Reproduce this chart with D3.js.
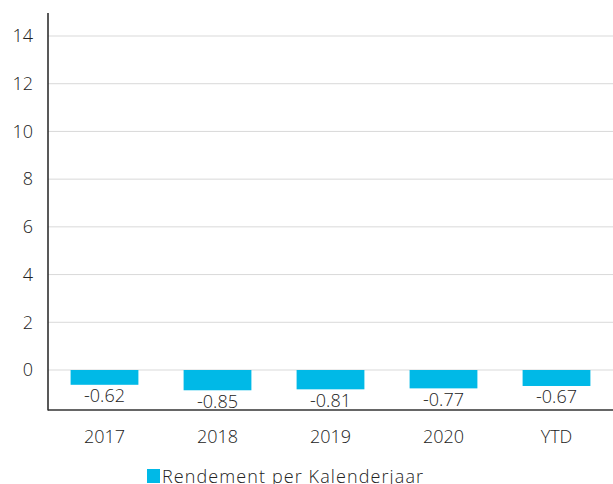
<!DOCTYPE html>
<html>
<head>
<meta charset="utf-8">
<script src="https://cdn.jsdelivr.net/npm/d3@7"></script>
<style>
  body { margin: 0; background: #fff; }
  svg { display: block; font-family: "Open Sans", "Noto Sans", sans-serif; font-weight: 300; }
</style>
</head>
<body>
<svg id="chart" width="613" height="484"></svg>
<script>
const categories = ['2017', '2018', '2019', '2020', 'YTD'];
const values = [-0.62, -0.85, -0.81, -0.77, -0.67];
const yTicks = [0, 2, 4, 6, 8, 10, 12, 14];
const seriesName = 'Rendement per Kalenderjaar';

const svg = d3.select('#chart');
const width = 613;
const left = 48;

const y = d3.scaleLinear([0, 14], [370, 36]);
const x = d3.scaleBand(categories, [left, width]).paddingInner(0.4).paddingOuter(0.2);

// gridlines
svg.append('g')
  .selectAll('line')
  .data(yTicks)
  .join('line')
  .attr('x1', left)
  .attr('x2', width)
  .attr('y1', (d) => y(d))
  .attr('y2', (d) => y(d))
  .attr('stroke', '#d9d9d9')
  .attr('stroke-width', 1);

// y tick labels
svg.append('g')
  .selectAll('text')
  .data(yTicks)
  .join('text')
  .attr('x', 33)
  .attr('y', (d) => y(d))
  .attr('dy', '0.35em')
  .attr('text-anchor', 'end')
  .attr('fill', '#222')
  .style('font-size', '18px')
  .text((d) => d);

// bars
svg.append('g')
  .selectAll('rect')
  .data(values)
  .join('rect')
  .attr('x', (d, i) => x(categories[i]))
  .attr('width', x.bandwidth())
  .attr('y', (d) => y(Math.max(0, d)))
  .attr('height', (d) => Math.abs(y(d) - y(0)))
  .attr('fill', '#00b9e7');

// value labels
svg.append('g')
  .selectAll('text')
  .data(values)
  .join('text')
  .attr('x', (d, i) => x(categories[i]) + x.bandwidth() / 2)
  .attr('y', (d) => y(d) + 11)
  .attr('dy', '0.35em')
  .attr('text-anchor', 'middle')
  .attr('fill', '#222')
  .style('font-size', '18px')
  .text((d) => d.toFixed(2));

// axes lines
svg.append('line')
  .attr('x1', left).attr('x2', left)
  .attr('y1', 13).attr('y2', 410.5)
  .attr('stroke', '#222').attr('stroke-width', 1.5);
svg.append('line')
  .attr('x1', left).attr('x2', width)
  .attr('y1', 410).attr('y2', 410)
  .attr('stroke', '#333').attr('stroke-width', 1.5);

// x labels
svg.append('g')
  .selectAll('text')
  .data(categories)
  .join('text')
  .attr('x', (d) => x(d) + x.bandwidth() / 2)
  .attr('y', 437)
  .attr('dy', '0.35em')
  .attr('text-anchor', 'middle')
  .attr('fill', '#222')
  .style('font-size', '18px')
  .text((d) => d);

// legend
const legend = svg.append('g');
legend.append('rect')
  .attr('x', 147).attr('y', 469)
  .attr('width', 13).attr('height', 14)
  .attr('fill', '#00b9e7');
legend.append('text')
  .attr('x', 162).attr('y', 477)
  .attr('dy', '0.35em')
  .attr('fill', '#222')
  .style('font-size', '18px')
  .style('letter-spacing', '1.1px')
  .text(seriesName);
</script>
</body>
</html>
